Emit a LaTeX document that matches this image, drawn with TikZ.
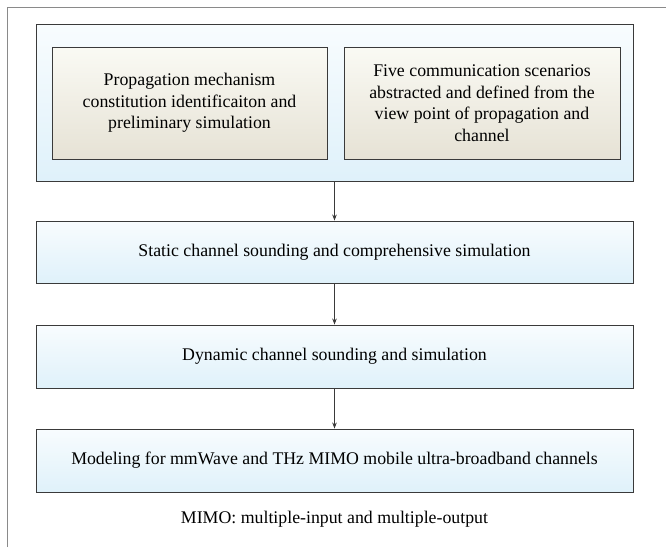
\documentclass[tikz,border=0pt]{standalone}
\usepackage{fontspec}
\setmainfont{Liberation Serif}
\usetikzlibrary{arrows.meta}
\definecolor{framegray}{HTML}{8A8A8A}
\definecolor{edgedark}{HTML}{3A3A3A}
\definecolor{bluetop}{HTML}{F8FCFE}
\definecolor{bluebot}{HTML}{DFF1FA}
\definecolor{beigetop}{HTML}{FAFAF4}
\definecolor{beigebot}{HTML}{E6E2D5}
\tikzset{
  txt/.style={font=\fontsize{17.8}{21.5}\selectfont, align=center, inner sep=0pt},
  bluebox/.style={txt, draw=edgedark, line width=0.9pt, top color=bluetop, bottom color=bluebot},
  beigebox/.style={txt, draw=edgedark, line width=0.9pt, top color=beigetop, bottom color=beigebot},
  flow/.style={draw=edgedark, line width=0.8pt, -{Stealth[length=6pt,width=4.5pt]}}
}
\begin{document}
\begin{tikzpicture}[x=1pt,y=-1pt]
\useasboundingbox (0,0) rectangle (666,547);
% outer frame
\draw[framegray, line width=1.4pt] (7.5,547) -- (7.5,7.5) -- (666,7.5);
% big container
\node[bluebox, minimum width=597pt, minimum height=156.5pt] (top) at (334.5,102.75) {};
\node[beigebox, minimum width=275pt, minimum height=112pt] (prop) at (189.5,103)
  {Propagation mechanism\\constitution identificaiton and\\preliminary simulation};
\node[beigebox, minimum width=276pt, minimum height=112pt] (five) at (482,103)
  {Five communication scenarios\\abstracted and defined from the\\view point of propagation and\\channel};
% stage boxes
\node[bluebox, minimum width=597pt, minimum height=62pt] (static) at (334.5,252)
  {Static channel sounding and comprehensive simulation};
\node[bluebox, minimum width=597pt, minimum height=63pt] (dyn) at (334.5,356.5)
  {Dynamic channel sounding and simulation};
\node[bluebox, minimum width=597pt, minimum height=63pt] (model) at (334.5,460.5)
  {Modeling for mmWave and THz MIMO mobile ultra-broadband channels};
% arrows
\draw[flow] (top) -- (static);
\draw[flow] (static) -- (dyn);
\draw[flow] (dyn) -- (model);
% caption
\node[txt] (cap) at (334.5,519) {MIMO: multiple-input and multiple-output};
\end{tikzpicture}
\end{document}
